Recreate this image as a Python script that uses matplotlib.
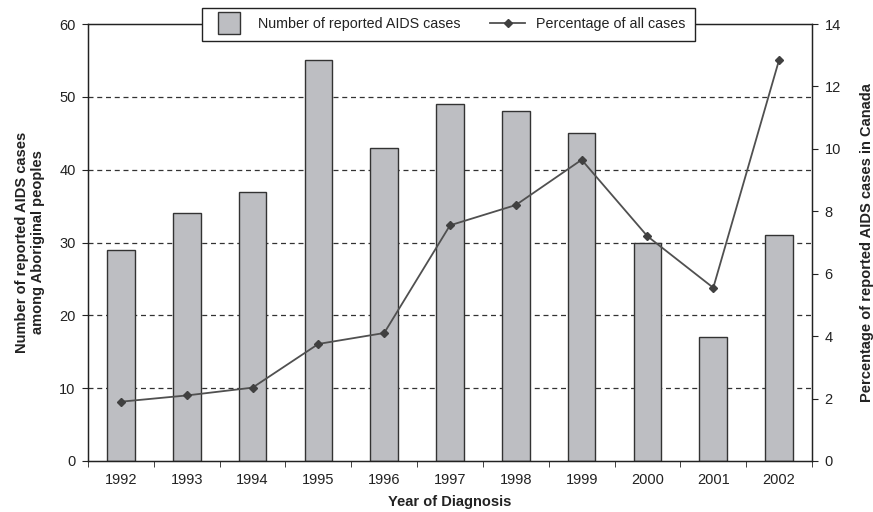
import matplotlib
matplotlib.use("Agg")
import matplotlib.pyplot as plt
from matplotlib.ticker import MultipleLocator, FixedLocator, NullFormatter
from matplotlib.legend_handler import HandlerPatch
from matplotlib.patches import Rectangle
import numpy as np

plt.rcParams['font.family'] = ['Liberation Sans', 'DejaVu Sans']

years = ['1992', '1993', '1994', '1995', '1996', '1997', '1998', '1999', '2000', '2001', '2002']
cases = [29, 34, 37, 55, 43, 49, 48, 45, 30, 17, 31]
percent = [1.9, 2.1, 2.35, 3.75, 4.1, 7.55, 8.2, 9.65, 7.2, 5.55, 12.85]

FS = 10.5
TXT = '#222222'

fig = plt.figure(figsize=(8.73, 5.12), dpi=100)
ax = fig.add_axes([88/873, 51/512, 724/873, 437/512])
x = np.arange(len(years))

ax.set_xlim(-0.5, len(years) - 0.5)
ax.set_ylim(0, 60)
ax.yaxis.set_major_locator(MultipleLocator(10))
for v in range(10, 60, 10):
    ax.axhline(v, color='#333333', lw=0.9, ls=(0, (4, 3)), zorder=1)

bars = ax.bar(x, cases, width=0.42, color='#bdbec2', edgecolor='#333333', lw=1.0, zorder=2,
              label='Number of reported AIDS cases')

ax.set_xticks(x)
ax.set_xticklabels(years)
ax.tick_params(axis='x', length=0, pad=9, labelsize=FS, labelcolor=TXT)
ax.xaxis.set_minor_locator(FixedLocator(np.arange(-0.5, len(years), 1.0)))
ax.xaxis.set_minor_formatter(NullFormatter())
ax.tick_params(axis='x', which='minor', length=4, direction='out', color='#222222')
ax.tick_params(axis='y', length=4, direction='out', color='#222222', labelsize=FS,
               labelcolor=TXT, pad=5)

for s in ['left', 'bottom', 'top', 'right']:
    ax.spines[s].set_color('#222222')
    ax.spines[s].set_linewidth(1.0)

ax.set_xlabel('Year of Diagnosis', fontsize=FS, fontweight='bold', labelpad=5.5, color=TXT)
ax.set_ylabel('Number of reported AIDS cases\namong Aboriginal peoples', fontsize=FS,
              fontweight='bold', labelpad=10, color=TXT)

ax2 = ax.twinx()
ax2.set_ylim(0, 14)
ax2.yaxis.set_major_locator(MultipleLocator(2))
line, = ax2.plot(x, percent, color='#505050', lw=1.3, marker='D', markersize=4.5,
                 markerfacecolor='#404040', markeredgecolor='#404040', zorder=3,
                 label='Percentage of all cases')
ax2.tick_params(axis='y', length=4, direction='out', color='#222222', labelsize=FS,
                labelcolor=TXT, pad=5)
for s in ['left', 'bottom', 'top', 'right']:
    ax2.spines[s].set_color('#222222')
ax2.set_ylabel('Percentage of reported AIDS cases in Canada', fontsize=FS,
               fontweight='bold', labelpad=14, color=TXT)

LFS = 10.3
LPX = LFS * 100 / 72


def square_patch(legend, orig_handle, xdescent, ydescent, width, height, fontsize):
    s = 22.0 * 72 / 100  # points
    return Rectangle((-xdescent + (width - s) / 2, -ydescent + (height - s) / 2), s, s)


leg = fig.legend([bars.patches[0], line], ['Number of reported AIDS cases', 'Percentage of all cases'],
                 loc='center', bbox_to_anchor=(448.5/873, 1 - 24/512), ncol=2,
                 frameon=True, fancybox=False, edgecolor='#222222', fontsize=LFS,
                 borderpad=9.5/LPX, columnspacing=30/LPX, handlelength=35/LPX,
                 handletextpad=11/LPX, framealpha=1,
                 handler_map={Rectangle: HandlerPatch(patch_func=square_patch)})
leg.get_frame().set_linewidth(1.0)
for t in leg.get_texts():
    t.set_color(TXT)

fig.savefig('out.png', dpi=100)
